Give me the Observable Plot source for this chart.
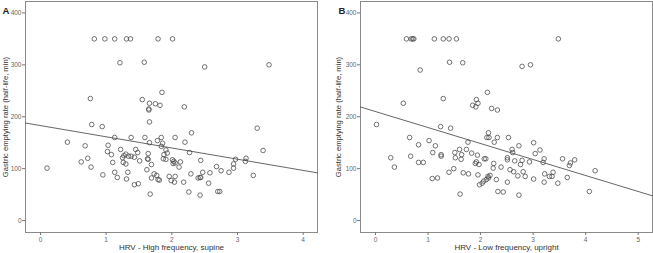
<!DOCTYPE html>
<html><head><meta charset="utf-8">
<script src="https://cdn.jsdelivr.net/npm/d3@7"></script>
<script src="https://cdn.jsdelivr.net/npm/@observablehq/plot@0.6"></script>
<style>
body{margin:0;background:#fff}
#wrap{position:relative;width:653px;height:253px}
#wrap svg{position:absolute;top:0}
</style></head><body><div id="wrap"></div>
<script>
// Panel A: HRV high frequency, supine vs gastric emptying half-life
const hfSupineX = [0.82,0.98,1.13,1.31,1.37,1.79,2.01,1.21,1.58,2.50,3.48,1.85,0.76,1.55,1.66,1.75,1.82,2.19,1.65,1.65,
1.66,0.78,0.94,3.30,2.30,1.13,1.38,1.59,1.84,2.05,1.78,1.86,1.66,2.20,0.41,0.68,1.03,1.84,3.39,1.22,1.45,1.91,
1.02,1.48,2.27,1.08,1.30,1.64,1.88,1.93,1.34,1.38,1.27,1.43,1.25,1.63,1.64,1.87,1.91,0.72,2.97,3.13,2.44,
1.51,2.01,2.03,2.13,3.12,1.26,1.10,0.62,2.05,2.02,1.30,2.94,1.69,2.11,2.68,0.10,0.77,2.94,1.62,2.75,
1.13,1.33,2.47,2.58,2.87,0.95,1.73,2.29,1.77,3.24,1.96,2.05,2.43,2.44,2.40,1.17,1.31,1.69,1.79,1.81,
1.99,2.04,2.18,2.56,1.49,1.43,2.26,2.70,2.73,2.43,1.67];
const hfSupineY = [350,350,350,350,350,350,350,304,305,296,300,247,235,233,226,225,222,219,215,213,
190,185,181,178,169,160,160,160,160,160,154,149,150,151,151,144,145,143,135,137,137,136,
133,131,131,127,128,129,127,130,124,124,125,122,121,119,118,119,118,120,118,120,116,
115,117,114,113,114,112,112,113,111,110,109,109,108,103,104,101,103,101,98,96,
93,93,93,92,93,88,90,90,87,87,85,85,83,83,82,83,80,82,79,78,
77,74,74,72,71,69,55,56,56,49,51];
// Panel B: HRV low frequency, upright
const lfUprightX = [0.59,0.68,0.71,0.73,1.12,1.29,1.40,1.54,3.48,1.41,1.66,2.95,2.79,0.85,2.13,1.29,1.92,1.95,1.85,1.91,0.53,2.21,2.32,
0.02,1.24,1.43,2.15,2.12,2.16,2.32,2.53,0.65,1.02,1.76,2.26,3.01,0.82,1.14,2.73,1.60,1.73,2.60,3.13,
1.51,1.83,2.61,3.04,1.09,1.25,1.25,1.64,1.94,0.67,0.29,1.52,1.63,2.07,2.10,2.51,2.51,2.79,2.65,3.21,3.56,3.79,
1.92,1.90,2.93,3.19,3.71,0.82,0.91,2.25,2.76,3.69,1.97,0.36,2.39,1.49,2.24,2.56,4.18,2.63,2.81,3.38,1.67,1.40,1.77,3.22,
1.95,2.71,2.85,3.31,3.36,2.18,2.14,3.65,2.15,1.08,1.18,3.01,2.11,2.30,2.06,2.03,1.98,2.51,3.21,3.47,2.33,2.43,4.07,1.61,2.73];
const lfUprightY = [350,350,350,350,350,350,350,350,350,305,304,300,297,290,247,235,233,226,222,219,226,216,213,
185,181,178,169,160,160,160,160,160,154,151,151,150,146,144,144,137,137,137,136,
131,130,131,129,131,127,124,127,126,124,121,121,118,119,119,121,117,116,115,119,119,117,
113,110,113,112,111,112,112,110,108,106,108,103,103,100,101,98,96,94,94,93,92,93,90,90,
88,86,85,85,85,87,85,83,82,81,82,80,79,79,76,72,69,74,74,72,56,55,56,51,49];
// fitted regression lines [intercept, slope]
const fitA = [183, -21.6];
const fitB = [210, -30.8];
const yTicks = [0,100,200,300,400];
const xTicksA = [0,1,2,3,4];
const xTicksB = [0,1,2,3,4,5];
const yTitle = "Gastric emptying rate (half-life, min)";
const xTitleA = "HRV - High frequency, supine";
const xTitleB = "HRV - Low frequency, upright";

const FONT = "'Liberation Sans', Arial, sans-serif";
const yDomain = [-23, 422];

function panel({xs, ys, fit, xDomain, xTicks, xTitle, tag, width, marginLeft, marginRight, tagDx, titleDx}) {
  const pts = xs.map((x, i) => ({x, y: ys[i]}));
  const line = xDomain.map(x => ({x, y: fit[0] + fit[1] * x}));
  return Plot.plot({
    width, height: 253,
    marginLeft, marginRight, marginTop: 1, marginBottom: 21,
    style: {fontFamily: FONT, background: "transparent", overflow: "visible"},
    x: {domain: xDomain},
    y: {domain: yDomain},
    marks: [
      Plot.frame({stroke: "#8a8a8a", strokeWidth: 1}),
      Plot.axisX({ticks: xTicks, tickSize: 3, tickPadding: 2, fontSize: 6.5, stroke: "#777", fill: "#666", label: null, tickFormat: d3.format("d")}),
      Plot.axisY({ticks: yTicks, tickSize: 3, tickPadding: 1, fontSize: 6.5, stroke: "#777", fill: "#666", label: null, tickFormat: d3.format("d")}),
      Plot.line(line, {x: "x", y: "y", stroke: "#555", strokeWidth: 0.9}),
      Plot.dot(pts, {x: "x", y: "y", r: 2.3, stroke: "#444", strokeWidth: 0.75, fill: "white", fillOpacity: 0}),
      Plot.text([xTitle], {text: d => d, frameAnchor: "bottom", dy: 17, fontSize: 8, fill: "#333"}),
      Plot.text([yTitle], {text: d => d, frameAnchor: "left", textAnchor: "middle", lineAnchor: "middle", dx: titleDx, rotate: -90, fontSize: 7.6, fill: "#333"}),
      Plot.text([tag], {text: d => d, frameAnchor: "top-left", dx: tagDx, dy: 5.5, textAnchor: "start", fontSize: 9.5, fontWeight: "bold", fill: "#222"})
    ]
  });
}

const wrap = document.getElementById("wrap");
const a = panel({xs: hfSupineX, ys: hfSupineY, fit: fitA, xDomain: [-0.228, 4.218], xTicks: xTicksA, xTitle: xTitleA, tag: "A",
  width: 327, marginLeft: 25, marginRight: 10, tagDx: -23, titleDx: -20});
a.style.left = "0px";
const b = panel({xs: lfUprightX, ys: lfUprightY, fit: fitB, xDomain: [-0.285, 5.272], xTicks: xTicksB, xTitle: xTitleB, tag: "B",
  width: 326, marginLeft: 33, marginRight: 1, tagDx: -22, titleDx: -22});
b.style.left = "327px";
wrap.append(a, b);
</script></body></html>
